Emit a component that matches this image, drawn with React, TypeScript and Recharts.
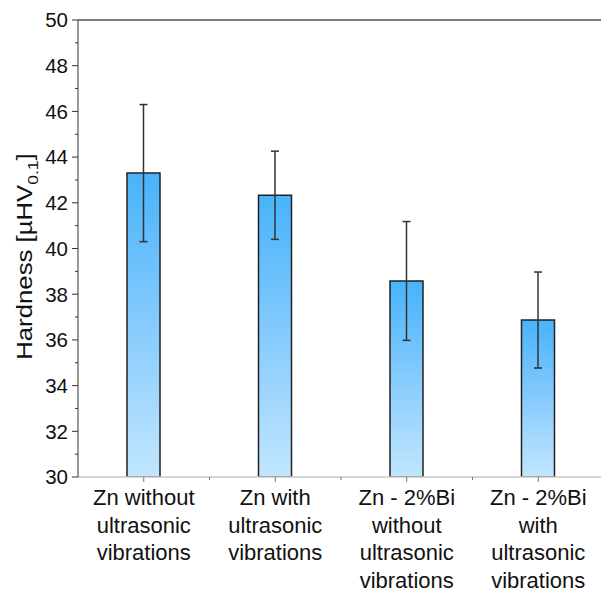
import React from "react";
import { BarChart, Bar, XAxis, YAxis, ErrorBar, ReferenceLine } from "recharts";

const categories: string[][] = [
  ["Zn without", "ultrasonic", "vibrations"],
  ["Zn with", "ultrasonic", "vibrations"],
  ["Zn - 2%Bi", "without", "ultrasonic", "vibrations"],
  ["Zn - 2%Bi", "with", "ultrasonic", "vibrations"],
];
const hardness: number[] = [43.3, 42.33, 38.58, 36.87];
const hardnessErr: number[] = [3.0, 1.93, 2.6, 2.1];
const yTicks: number[] = [30, 31, 32, 33, 34, 35, 36, 37, 38, 39, 40, 41, 42, 43, 44, 45, 46, 47, 48, 49, 50];

const data = categories.map((c, i) => ({
  name: c.join(" "),
  value: hardness[i],
  err: hardnessErr[i],
}));

const FONT = "'Liberation Sans', Arial, sans-serif";
const Y_TICK_SIZE = 6;
const Y_TICK_MARGIN = 4;
const X_TICK_SIZE = 5;
const X_TICK_MARGIN = 2;

const YTick = (props: any) => {
  const { x, y, payload } = props;
  const v = payload.value as number;
  const major = v % 2 === 0;
  const axisX = x + Y_TICK_SIZE + Y_TICK_MARGIN;
  return (
    <g>
      <line x1={axisX - (major ? Y_TICK_SIZE : 3)} x2={axisX} y1={y} y2={y} stroke="#333" strokeWidth={1} />
      {major && (
        <text x={x} y={y} dy="0.36em" textAnchor="end" fontSize={20.5} fontFamily={FONT} fill="#111">
          {v}
        </text>
      )}
    </g>
  );
};

const XTick = (props: any) => {
  const { x, y, payload, index } = props;
  const axisY = y - X_TICK_SIZE - X_TICK_MARGIN;
  const off = payload && typeof payload.offset === "number" ? payload.offset : 65.75;
  const lines = categories[index] || [];
  return (
    <g>
      <line x1={x} x2={x} y1={axisY} y2={axisY + X_TICK_SIZE} stroke="#777" strokeWidth={1} />
      <line x1={x + off} x2={x + off} y1={axisY} y2={axisY + 3} stroke="#777" strokeWidth={1} />
      <text x={x} y={y} textAnchor="middle" fontSize={22} fontFamily={FONT} fill="#111">
        {lines.map((l, i) => (
          <tspan key={i} x={x} dy={i === 0 ? 21 : 27.7}>
            {l}
          </tspan>
        ))}
      </text>
    </g>
  );
};

const YLabel = (props: any) => {
  const vb = props.viewBox || { x: 0, y: 20, width: 78, height: 457 };
  const cx = vb.x + 32;
  const cy = vb.y + vb.height / 2 + 8;
  return (
    <text
      x={0}
      y={0}
      transform={`translate(${cx}, ${cy}) rotate(-90) scale(1.17, 1)`}
      textAnchor="middle"
      fontSize={22}
      fontFamily={FONT}
      fill="#111"
    >
      Hardness [µHV
      <tspan fontSize={15} dy={6}>0.1</tspan>
      <tspan dy={-6}>]</tspan>
    </text>
  );
};

export default function App() {
  return (
    <div style={{ position: "absolute", left: 0, top: 0, width: 601, height: 596, overflow: "hidden", background: "#fff" }}>
      <BarChart
        width={604}
        height={596}
        data={data}
        margin={{ top: 20, right: 0, left: 0, bottom: 0 }}
      >
        <defs>
          <linearGradient id="barGrad" x1="0" y1="0" x2="0" y2="1">
            <stop offset="0" stopColor="#48b3fb" />
            <stop offset="0.5" stopColor="#86cbfd" />
            <stop offset="1" stopColor="#c2e6fe" />
          </linearGradient>
        </defs>
        <XAxis
          dataKey="name"
          height={119}
          interval={0}
          axisLine={{ stroke: "#c8c8c8", strokeWidth: 1.5 }}
          tickLine={false}
          tickSize={X_TICK_SIZE}
          tickMargin={X_TICK_MARGIN}
          tick={<XTick />}
        />
        <YAxis
          width={78}
          domain={[30, 50]}
          ticks={yTicks}
          interval={0}
          allowDataOverflow
          axisLine={{ stroke: "#333", strokeWidth: 1 }}
          tickLine={false}
          tickSize={Y_TICK_SIZE}
          tickMargin={Y_TICK_MARGIN}
          tick={<YTick />}
          label={<YLabel />}
        />
        <ReferenceLine y={50} stroke="#555" strokeWidth={1.5} />
        <Bar
          dataKey="value"
          barSize={33}
          fill="url(#barGrad)"
          stroke="#222"
          strokeWidth={1.5}
          isAnimationActive={false}
        >
          <ErrorBar dataKey="err" width={4} stroke="#333" strokeWidth={1.5} />
        </Bar>
      </BarChart>
    </div>
  );
}
